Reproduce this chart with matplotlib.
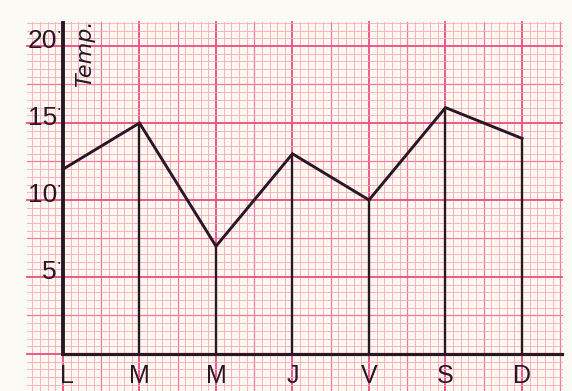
import matplotlib
matplotlib.use("Agg")
import matplotlib.pyplot as plt
import numpy as np
from matplotlib.patches import Rectangle

# Monthly temperatures
months = ['L', 'M', 'M', 'J', 'V', 'S', 'D']
temps = [12, 15, 7, 13, 10, 16, 14]
ytick_values = [5, 10, 15, 20]
ytick_labels = ['5', '10', '15', '20']

# colours
paper = '#fff8ef'
pink_major = '#ef4c84'
pink_mid = '#f27ba2'
pink_minor = '#f6a8c3'
ink = '#2b1626'

plt.rcParams['font.family'] = ['Liberation Sans', 'DejaVu Sans']

fig = plt.figure(figsize=(5.72, 3.91), dpi=100, facecolor='#fdfbf6')
ax = fig.add_axes([0, 0, 1, 1])
ax.set_xlim(-0.8235, 6.6536)
ax.set_ylim(-2.4026, 22.987)
ax.axis('off')

# graph paper
gx0, gx1 = -0.47, 6.52
gy0, gy1 = -2.45, 21.56
ax.add_patch(Rectangle((gx0, gy0), gx1 - gx0, gy1 - gy0, color=paper, zorder=0))

for k in range(-5, 66):
    x = k / 10
    if x < gx0 or x > gx1:
        continue
    if k % 10 == 0:
        c, lw = pink_major, 1.3
    elif k % 5 == 0:
        c, lw = pink_mid, 0.9
    else:
        c, lw = pink_minor, 0.6
    ax.plot([x, x], [gy0, gy1], color=c, lw=lw, zorder=1)

for k in range(-5, 44):
    y = k / 2
    if y < gy0 or y > gy1:
        continue
    if k % 10 == 0:
        c, lw = pink_major, 1.3
    elif k % 5 == 0:
        c, lw = pink_mid, 0.9
    else:
        c, lw = pink_minor, 0.6
    ax.plot([gx0, gx1], [y, y], color=c, lw=lw, zorder=1)

x = np.arange(len(months))

# axes drawn by hand
ax.plot([0, 0], [0, 21.5], color=ink, lw=2.8, zorder=3)
ax.plot([0, 6.52], [0, 0], color=ink, lw=2.3, zorder=3)

# drop lines and the curve
ax.vlines(x[1:], 0, temps[1:], color=ink, lw=1.7, zorder=3)
ax.plot(x, temps, color=ink, lw=2.1, zorder=4, solid_joinstyle='miter')

for xi, m in zip(x, months):
    ax.text(xi + (0.05 if xi == 0 else 0), -1.45, m, ha='center', va='center',
            fontsize=18, color=ink, zorder=5)

# y labels with the little degree dot at the top right
for v, lab in zip(ytick_values, ytick_labels):
    ax.text(-0.08, v + 0.3, lab, ha='right', va='center', fontsize=19,
            color=ink, zorder=5)
    ax.text(-0.07, v + 0.85, '•', ha='left', va='center', fontsize=5,
            color=ink, zorder=5)

ax.text(0.29, 19.5, 'Temp.', rotation=90, style='italic', ha='center',
        va='center', fontsize=16, color=ink, family='DejaVu Sans', zorder=5)

fig.savefig('out.png', dpi=100, facecolor=fig.get_facecolor())
